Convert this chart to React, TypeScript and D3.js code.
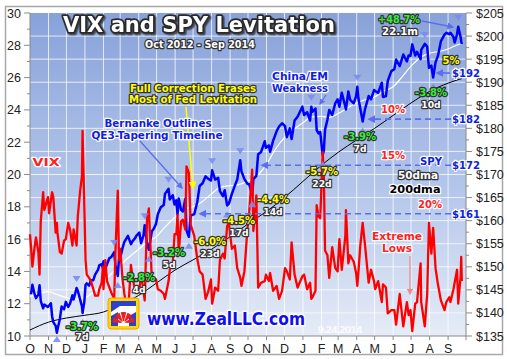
import React, { useRef, useEffect } from "react";
import * as d3 from "d3";

const W = 507;
const H = 359;

// sample dates shared by SPY and VIX
const dates = [
	"2012-10-01", "2012-10-03", "2012-10-05", "2012-10-09", "2012-10-11", "2012-10-15", "2012-10-17", "2012-10-19", "2012-10-23", "2012-10-25", "2012-10-31",
	"2012-11-02", "2012-11-05", "2012-11-07", "2012-11-09", "2012-11-13", "2012-11-15", "2012-11-16", "2012-11-20", "2012-11-23", "2012-11-27", "2012-11-30",
	"2012-12-04", "2012-12-07", "2012-12-11", "2012-12-13", "2012-12-18", "2012-12-20", "2012-12-24", "2012-12-27", "2012-12-28", "2012-12-31",
	"2013-01-02", "2013-01-04", "2013-01-08", "2013-01-11", "2013-01-15", "2013-01-18", "2013-01-23", "2013-01-25", "2013-01-29", "2013-01-31",
	"2013-02-01", "2013-02-04", "2013-02-07", "2013-02-11", "2013-02-14", "2013-02-19", "2013-02-21", "2013-02-25", "2013-02-27",
	"2013-03-01", "2013-03-05", "2013-03-08", "2013-03-14", "2013-03-19", "2013-03-22", "2013-03-26", "2013-03-28",
	"2013-04-02", "2013-04-05", "2013-04-09", "2013-04-11", "2013-04-15", "2013-04-18", "2013-04-23", "2013-04-26", "2013-04-30",
	"2013-05-03", "2013-05-08", "2013-05-13", "2013-05-15", "2013-05-21", "2013-05-23", "2013-05-28", "2013-05-31",
	"2013-06-03", "2013-06-05", "2013-06-07", "2013-06-11", "2013-06-14", "2013-06-18", "2013-06-20", "2013-06-24", "2013-06-27",
	"2013-07-03", "2013-07-08", "2013-07-12", "2013-07-17", "2013-07-22", "2013-07-26", "2013-07-31",
	"2013-08-02", "2013-08-07", "2013-08-12", "2013-08-15", "2013-08-20", "2013-08-23", "2013-08-27", "2013-08-30",
	"2013-09-04", "2013-09-09", "2013-09-13", "2013-09-18", "2013-09-20", "2013-09-25", "2013-09-30",
	"2013-10-03", "2013-10-08", "2013-10-10", "2013-10-15", "2013-10-18", "2013-10-23", "2013-10-29", "2013-10-31",
	"2013-11-05", "2013-11-07", "2013-11-12", "2013-11-18", "2013-11-22", "2013-11-27",
	"2013-12-02", "2013-12-05", "2013-12-10", "2013-12-13", "2013-12-18", "2013-12-23", "2013-12-31",
	"2014-01-03", "2014-01-08", "2014-01-13", "2014-01-15", "2014-01-17", "2014-01-22", "2014-01-24", "2014-01-27", "2014-01-30",
	"2014-02-03", "2014-02-05", "2014-02-07", "2014-02-11", "2014-02-14", "2014-02-19", "2014-02-24", "2014-02-28",
	"2014-03-03", "2014-03-07", "2014-03-13", "2014-03-14", "2014-03-18", "2014-03-21", "2014-03-27", "2014-03-31",
	"2014-04-02", "2014-04-04", "2014-04-07", "2014-04-11", "2014-04-15", "2014-04-21", "2014-04-25", "2014-04-30",
	"2014-05-02", "2014-05-07", "2014-05-13", "2014-05-15", "2014-05-20", "2014-05-23", "2014-05-29",
	"2014-06-03", "2014-06-06", "2014-06-12", "2014-06-18", "2014-06-24", "2014-06-27", "2014-06-30",
	"2014-07-03", "2014-07-08", "2014-07-11", "2014-07-17", "2014-07-18", "2014-07-24", "2014-07-28", "2014-07-31",
	"2014-08-04", "2014-08-07", "2014-08-11", "2014-08-15", "2014-08-20", "2014-08-26", "2014-08-29",
	"2014-09-03", "2014-09-05", "2014-09-10", "2014-09-12", "2014-09-16", "2014-09-18", "2014-09-22", "2014-09-23", "2014-09-24",
];

const spy = [
	144.4, 144.3, 146.1, 143.9, 143.2, 144.0, 146.0, 142.6, 141.0, 141.8, 141.3,
	141.6, 142.1, 139.3, 138.0, 137.2, 135.7, 136.4, 138.7, 141.4, 140.8, 142.4,
	141.3, 142.0, 143.8, 142.9, 145.4, 144.8, 142.9, 141.4, 140.0, 142.4,
	146.1, 146.4, 145.9, 147.1, 147.1, 148.3, 149.4, 150.3, 150.6, 149.7,
	151.2, 149.5, 150.6, 151.9, 152.1, 153.2, 150.4, 148.0, 151.7,
	151.9, 154.1, 155.4, 156.7, 154.9, 155.6, 156.2, 156.7,
	157.4, 155.1, 156.8, 159.0, 155.0, 153.7, 157.7, 158.2, 159.3,
	161.4, 162.9, 163.4, 165.8, 166.9, 164.6, 165.5, 163.5,
	164.4, 161.3, 164.8, 162.3, 162.0, 164.7, 157.9, 156.5, 161.1,
	161.4, 164.0, 167.5, 168.1, 169.6, 169.1, 168.7,
	170.9, 168.9, 169.3, 166.4, 165.3, 166.6, 163.3, 163.7,
	165.8, 167.6, 168.9, 173.1, 170.7, 169.0, 168.0,
	167.9, 165.5, 169.0, 169.7, 174.4, 174.9, 177.2, 175.8,
	176.3, 174.9, 177.3, 179.4, 180.4, 181.1,
	180.5, 178.1, 180.0, 177.7, 181.7, 182.5, 184.7,
	182.9, 183.5, 181.7, 184.7, 183.6, 184.3, 179.6, 178.9, 179.2,
	174.2, 175.2, 179.7, 181.9, 184.0, 182.9, 185.4, 186.3,
	184.7, 187.7, 184.7, 184.1, 188.0, 186.2, 185.4, 187.0,
	189.0, 186.4, 184.3, 181.5, 184.2, 187.0, 186.3, 188.3,
	188.1, 187.7, 189.9, 186.8, 187.0, 190.3, 192.4,
	192.8, 194.9, 193.5, 196.0, 194.5, 195.8, 195.7,
	198.2, 195.8, 196.6, 195.0, 197.0, 198.3, 197.7, 193.1,
	193.6, 191.0, 194.3, 195.7, 198.9, 200.3, 200.7,
	200.4, 200.7, 199.8, 198.6, 200.4, 202.0, 199.8, 198.9, 198.3,
];

const vix = [
	16.3, 15.4, 14.3, 15.6, 16.1, 15.2, 13.8, 17.1, 18.9, 17.8, 18.6,
	17.6, 18.4, 18.9, 18.6, 16.4, 17.0, 16.4, 15.2, 15.1, 15.9, 16.0,
	17.0, 16.6, 15.6, 16.6, 15.6, 17.4, 19.0, 19.9, 22.7, 18.0,
	14.7, 13.8, 13.6, 13.4, 12.9, 12.5, 12.5, 12.9, 13.3, 14.3,
	12.9, 14.7, 13.4, 13.0, 12.7, 12.3, 15.2, 19.0, 14.7,
	15.4, 13.5, 12.6, 11.3, 14.4, 13.6, 12.8, 12.7,
	12.8, 13.9, 12.8, 12.2, 17.3, 17.9, 13.5, 13.6, 13.5,
	12.9, 12.8, 12.6, 12.3, 13.4, 14.1, 14.5, 16.3,
	16.3, 17.5, 15.1, 17.1, 17.2, 16.6, 20.5, 20.1, 16.9,
	16.2, 14.8, 14.0, 13.8, 12.3, 12.7, 13.5,
	12.0, 13.0, 12.8, 14.7, 15.1, 14.8, 16.8, 17.0,
	15.4, 15.6, 14.2, 13.6, 13.1, 14.0, 16.6,
	17.7, 20.3, 16.5, 18.7, 13.0, 13.3, 13.4, 13.8,
	13.4, 13.9, 12.8, 13.1, 12.3, 12.8,
	14.2, 14.0, 13.5, 15.8, 13.8, 13.0, 13.7,
	13.8, 12.9, 13.3, 12.3, 12.4, 12.8, 18.1, 17.4, 17.3,
	21.4, 19.9, 15.3, 15.0, 13.6, 15.5, 14.2, 14.0,
	16.0, 14.1, 16.2, 17.8, 14.5, 15.0, 14.6, 13.9,
	13.1, 14.0, 15.6, 17.0, 15.6, 13.3, 14.1, 13.4,
	12.9, 13.4, 12.1, 13.2, 13.0, 11.4, 11.6,
	11.6, 10.7, 12.6, 10.6, 12.1, 11.3, 11.6,
	10.3, 12.0, 12.1, 14.5, 12.1, 10.6, 12.6, 17.0,
	15.1, 16.7, 14.2, 13.2, 12.2, 11.6, 12.1,
	12.4, 12.1, 12.9, 13.3, 14.1, 12.0, 13.7, 14.9, 13.4,
];

const ma50Dates = [
	"2012-10-01", "2012-10-15", "2012-11-01", "2012-11-15", "2012-12-01", "2012-12-15", "2013-01-01", "2013-01-15",
	"2013-02-01", "2013-02-15", "2013-03-01", "2013-03-15", "2013-04-01", "2013-04-15", "2013-05-01", "2013-05-15",
	"2013-06-01", "2013-06-15", "2013-07-01", "2013-07-15", "2013-08-01", "2013-08-15", "2013-09-01", "2013-09-15",
	"2013-10-01", "2013-10-15", "2013-11-01", "2013-11-15", "2013-12-01", "2013-12-15", "2014-01-01", "2014-01-15",
	"2014-02-01", "2014-02-15", "2014-03-01", "2014-03-15", "2014-04-01", "2014-04-15", "2014-05-01", "2014-05-15",
	"2014-06-01", "2014-06-15", "2014-07-01", "2014-07-15", "2014-08-01", "2014-08-15", "2014-09-01", "2014-09-15", "2014-09-24",
];
const ma50 = [
	143.6, 144.2, 144.6, 144.0, 143.3, 143.0, 143.3, 144.5,
	146.6, 148.6, 150.3, 152.0, 153.8, 155.3, 156.6, 158.6,
	160.8, 162.4, 163.0, 164.0, 165.8, 167.2, 167.6, 167.8,
	168.6, 169.6, 172.2, 175.3, 178.0, 179.6, 181.2, 182.5,
	182.6, 182.4, 183.2, 184.3, 185.5, 186.2, 186.8, 188.0,
	189.0, 191.0, 193.5, 195.2, 196.3, 196.6, 197.2, 198.0, 198.4,
];

const ma200Dates = [
	"2012-10-01", "2012-11-01", "2012-12-01", "2013-01-01", "2013-02-01", "2013-03-01", "2013-04-01", "2013-05-01",
	"2013-06-01", "2013-07-01", "2013-08-01", "2013-09-01", "2013-10-01", "2013-11-01", "2013-12-01", "2014-01-01",
	"2014-02-01", "2014-03-01", "2014-04-01", "2014-05-01", "2014-06-01", "2014-07-01", "2014-08-01", "2014-09-01", "2014-09-24",
];
const ma200 = [
	136.3, 138.0, 138.9, 139.5, 140.2, 141.8, 143.8, 146.5,
	149.3, 151.5, 153.8, 156.5, 159.3, 162.0, 165.0, 168.5,
	172.0, 174.8, 177.5, 180.0, 182.8, 185.5, 188.0, 189.8, 190.8,
];

const vixTicks = [10, 12, 14, 16, 18, 20, 22, 24, 26, 28, 30];
const spyTicks = [135, 140, 145, 150, 155, 160, 165, 170, 175, 180, 185, 190, 195, 200, 205];
const monthLabels = ["O", "N", "D", "J", "F", "M", "A", "M", "J", "J", "A", "S", "O", "N", "D", "J", "F", "M", "A", "M", "J", "J", "A", "S"];

const peakDates = ["2012-12-18", "2013-02-19", "2013-04-11", "2013-05-21", "2013-08-02", "2013-09-18", "2014-01-15", "2014-04-02", "2014-07-24", "2014-09-18"];
const lowDates = ["2012-11-15", "2012-12-28", "2013-02-25", "2013-04-18", "2013-06-24", "2013-08-27", "2013-10-08", "2014-02-03", "2014-04-11", "2014-08-07"];

// pullback labels: percent, duration, colour
const pullbacks = [
	{ pct: "-3.7%", days: "7d", green: true, x: 82, y: 330, dy: 10 },
	{ pct: "-2.8%", days: "4d", green: true, x: 139, y: 281, dy: 12 },
	{ pct: "-3.2%", days: "5d", green: true, x: 169, y: 256, dy: 12 },
	{ pct: "-6.0%", days: "23d", green: false, x: 210, y: 245, dy: 12 },
	{ pct: "-4.5%", days: "17d", green: false, x: 239, y: 224, dy: 12 },
	{ pct: "-4.4%", days: "14d", green: false, x: 273, y: 203, dy: 12 },
	{ pct: "-5.7%", days: "22d", green: false, x: 322, y: 175, dy: 12 },
	{ pct: "-3.9%", days: "7d", green: true, x: 360, y: 140, dy: 12 },
	{ pct: "-3.8%", days: "10d", green: true, x: 431, y: 96, dy: 12 },
];

const supportLevels = [
	{ level: 182, label: "$182", pct: "10%", pctX: 393, fromX: 369 },
	{ level: 172, label: "$172", pct: "15%", pctX: 393, fromX: 262 },
	{ level: 161.5, label: "$161", pct: "20%", pctX: 430, fromX: 200 },
];

const parse = d3.timeParse("%Y-%m-%d");

const App = () => {
	const svgRef = useRef<SVGSVGElement | null>(null);

	useEffect(() => {
		document.body.style.margin = "0";
		if (!svgRef.current) return;
		const svg = d3.select(svgRef.current);
		svg.selectAll("*").remove();

		const left = 30, right = 466, top = 13, bottom = 336;

		const x = d3.scaleTime().domain([new Date(2012, 9, 1), new Date(2014, 9, 1)]).range([left, right]);
		const yV = d3.scaleLinear().domain([10, 30]).range([bottom, top]);
		const yS = d3.scaleLinear().domain([135, 205]).range([bottom, top]);

		const defs = svg.append("defs");
		const grad = defs.append("linearGradient").attr("id", "bg").attr("x1", "0%").attr("y1", "0%").attr("x2", "0%").attr("y2", "100%");
		grad.append("stop").attr("offset", "0%").attr("stop-color", "#88a2d9");
		grad.append("stop").attr("offset", "55%").attr("stop-color", "#b4c6ea");
		grad.append("stop").attr("offset", "100%").attr("stop-color", "#e6ecf7");

		defs.append("filter").attr("id", "shadow").attr("x", "-5%").attr("y", "-20%").attr("width", "110%").attr("height", "150%")
			.append("feDropShadow").attr("dx", 1.5).attr("dy", 1.5).attr("stdDeviation", 0.6)
			.attr("flood-color", "#333").attr("flood-opacity", 0.8);

		const arrowDef = (id: string, color: string) => {
			defs.append("marker").attr("id", id).attr("viewBox", "0 0 10 10").attr("refX", 8).attr("refY", 5)
				.attr("markerWidth", 5).attr("markerHeight", 5).attr("orient", "auto-start-reverse")
				.append("path").attr("d", "M0,0L10,5L0,10z").attr("fill", color);
		};
		arrowDef("arYellow", "#ffff00");
		arrowDef("arBlue", "#5b6ef0");
		arrowDef("arPink", "#f08a8a");

		svg.append("rect").attr("width", W).attr("height", H).attr("fill", "#ffffff");
		svg.append("rect").attr("x", 5.5).attr("y", 6.5).attr("width", 497).attr("height", 348)
			.attr("fill", "none").attr("stroke", "#a8a8a8").attr("stroke-width", 1.5);
		svg.append("rect").attr("x", left).attr("y", top).attr("width", right - left).attr("height", bottom - top).attr("fill", "url(#bg)");

		// grid
		const months = d3.timeMonth.range(new Date(2012, 9, 1), new Date(2014, 9, 1));
		svg.append("g").selectAll("line").data(months.slice(1)).join("line")
			.attr("x1", (d) => x(d)).attr("x2", (d) => x(d)).attr("y1", top).attr("y2", bottom)
			.attr("stroke", "#ffffff").attr("stroke-opacity", 0.75).attr("stroke-width", 1);
		svg.append("g").selectAll("line").data(spyTicks.slice(1, -1)).join("line")
			.attr("x1", left).attr("x2", right).attr("y1", (d) => yS(d)).attr("y2", (d) => yS(d))
			.attr("stroke", "#ffffff").attr("stroke-opacity", 0.75).attr("stroke-width", 1);

		// axes
		const axisG = svg.append("g").attr("stroke", "#8a8a8a").attr("stroke-width", 1);
		axisG.append("line").attr("x1", left).attr("x2", left).attr("y1", top).attr("y2", bottom + 4);
		axisG.append("line").attr("x1", right).attr("x2", right).attr("y1", top).attr("y2", bottom + 4);
		axisG.append("line").attr("x1", left).attr("x2", right).attr("y1", bottom).attr("y2", bottom);
		axisG.selectAll(".vt").data(d3.range(10, 30.5, 1)).join("line")
			.attr("x1", (d) => (d % 2 === 0 ? left - 6 : left - 3)).attr("x2", left)
			.attr("y1", (d) => yV(d)).attr("y2", (d) => yV(d));
		axisG.selectAll(".st").data(d3.range(135, 205.5, 2.5)).join("line")
			.attr("x1", right).attr("x2", (d) => (d % 5 === 0 ? right + 6 : right + 3))
			.attr("y1", (d) => yS(d)).attr("y2", (d) => yS(d));
		axisG.selectAll(".mt").data(months.slice(1)).join("line")
			.attr("x1", (d) => x(d)).attr("x2", (d) => x(d)).attr("y1", bottom).attr("y2", bottom + 4);

		const tickFont = "'Liberation Sans', Arial, sans-serif";
		svg.append("g").selectAll("text").data(vixTicks).join("text")
			.attr("x", left - 9).attr("y", (d) => yV(d) + 4.5).attr("text-anchor", "end")
			.attr("font-family", tickFont).attr("font-size", 12.5).attr("fill", "#222").text((d) => d);
		svg.append("g").selectAll("text").data(spyTicks).join("text")
			.attr("x", right + 10).attr("y", (d) => yS(d) + 4.5).attr("text-anchor", "start")
			.attr("font-family", tickFont).attr("font-size", 12.5).attr("fill", "#222").text((d) => `$${d}`);
		svg.append("g").selectAll("text").data(months).join("text")
			.attr("x", (d) => x(d)).attr("y", bottom + 17).attr("text-anchor", "middle")
			.attr("font-family", tickFont).attr("font-size", 12.5).attr("fill", "#222")
			.text((_d, i) => monthLabels[i]);

		// moving averages and series
		const sLine = d3.line<[string, number]>().x((d) => x(parse(d[0])!)).y((d) => yS(d[1]));
		const vLine = d3.line<[string, number]>().x((d) => x(parse(d[0])!)).y((d) => yV(d[1]));
		const smooth = d3.line<[string, number]>().x((d) => x(parse(d[0])!)).y((d) => yS(d[1])).curve(d3.curveMonotoneX);

		svg.append("path").attr("d", smooth(d3.zip(ma200Dates, ma200) as any)!)
			.attr("fill", "none").attr("stroke", "#000").attr("stroke-width", 1);
		svg.append("path").attr("d", smooth(d3.zip(ma50Dates, ma50) as any)!)
			.attr("fill", "none").attr("stroke", "#ffffff").attr("stroke-width", 1.2);
		svg.append("path").attr("d", sLine(d3.zip(dates, spy) as any)!)
			.attr("fill", "none").attr("stroke", "#0000ff").attr("stroke-width", 2.5).attr("stroke-linejoin", "round");
		svg.append("path").attr("d", vLine(d3.zip(dates, vix) as any)!)
			.attr("fill", "none").attr("stroke", "#ff0000").attr("stroke-width", 2.3).attr("stroke-linejoin", "round");

		// peak / low markers
		const spyAt = (d: string) => spy[dates.indexOf(d)];
		const markG = svg.append("g").attr("fill", "#7b8cf2").attr("fill-opacity", 0.9);
		markG.selectAll(".pk").data(peakDates).join("path")
			.attr("transform", (d) => `translate(${x(parse(d)!)},${yS(spyAt(d)) - 9})`)
			.attr("d", "M-4,-3L4,-3L0,3z");
		markG.selectAll(".lw").data(lowDates).join("path")
			.attr("transform", (d) => `translate(${x(parse(d)!)},${Math.min(yS(spyAt(d)) + 9, bottom + 3)})`)
			.attr("d", "M-4,3L4,3L0,-3z");

		// outlined text helper
		const txt = (s: string, tx: number, ty: number, size: number, fill: string, stroke: string, len?: number, sw = 2.5) => {
			const t = svg.append("text").attr("x", tx).attr("y", ty).attr("text-anchor", "middle")
				.attr("font-family", "'DejaVu Sans', Verdana, sans-serif").attr("font-weight", "bold")
				.attr("font-size", size).attr("fill", fill).attr("stroke", stroke).attr("stroke-width", sw)
				.attr("stroke-linejoin", "round").attr("paint-order", "stroke").text(s);
			if (len) t.attr("textLength", len).attr("lengthAdjust", "spacingAndGlyphs");
			return t;
		};

		// support levels
		const dashG = svg.append("g");
		supportLevels.forEach((s) => {
			dashG.append("line").attr("x1", 451).attr("x2", s.fromX).attr("y1", yS(s.level)).attr("y2", yS(s.level))
				.attr("stroke", "#5b6ef0").attr("stroke-width", 1.6).attr("stroke-dasharray", "6,4")
				.attr("marker-end", "url(#arBlue)");
			txt(s.label, 466, yS(s.level) + 4, 10.5, "#1020e0", "#ffffff", 28);
			txt(s.pct, s.pctX, yS(s.level) - 6, 10.5, "#ff2020", "#ffffff", 24);
		});
		svg.append("line").attr("x1", 450).attr("x2", 437).attr("y1", yS(192)).attr("y2", yS(192))
			.attr("stroke", "#5b6ef0").attr("stroke-width", 1.6).attr("marker-end", "url(#arBlue)");
		txt("$192", 466, yS(192) + 4, 10.5, "#1020e0", "#ffffff", 28);
		txt("5%", 451, 64, 10.5, "#ffff00", "#333", 17);

		// legend
		txt("SPY", 431, 165, 11, "#1020e0", "#ffffff", 22);
		txt("50dma", 418, 179, 10.5, "#ffffff", "#333", 40);
		txt("200dma", 415, 193, 10.5, "#000000", "#ffffff", 51);

		// pullback labels
		pullbacks.forEach((p) => {
			txt(p.pct, p.x, p.y, 10, p.green ? "#33ee33" : "#ffff00", "#333", 32);
			txt(p.days, p.x, p.y + p.dy, 9.5, "#ffffff", "#333", p.days.length * 6.5);
		});

		// annotations
		txt("+48.7%", 399, 23, 10.5, "#33ee33", "#333", 42);
		txt("22.1m", 400, 35, 10.5, "#ffffff", "#333", 36);
		svg.append("line").attr("x1", 422).attr("x2", 453).attr("y1", 21).attr("y2", 27)
			.attr("stroke", "#5b6ef0").attr("stroke-width", 1.4).attr("marker-end", "url(#arBlue)");

		txt("China/EM", 300, 80, 10.5, "#1020e0", "#ffffff", 56);
		txt("Weakness", 300, 92, 10.5, "#1020e0", "#ffffff", 56);
		svg.append("line").attr("x1", 326).attr("x2", 320).attr("y1", 95).attr("y2", 104)
			.attr("stroke", "#5b6ef0").attr("stroke-width", 1.2).attr("marker-end", "url(#arBlue)");

		txt("Full Correction Erases", 193, 92, 10.5, "#ffff00", "#333", 126);
		txt("Most of Fed Levitation", 193, 103, 10.5, "#ffff00", "#333", 128);
		svg.append("line").attr("x1", 186).attr("x2", 193).attr("y1", 107).attr("y2", 188)
			.attr("stroke", "#ffff00").attr("stroke-width", 1.6).attr("marker-end", "url(#arYellow)");

		txt("Bernanke Outlines", 158, 127, 10.5, "#1020e0", "#ffffff", 107);
		txt("QE3-Tapering Timeline", 157, 139, 10.5, "#1020e0", "#ffffff", 131);
		svg.append("line").attr("x1", 140).attr("x2", 182).attr("y1", 141).attr("y2", 188)
			.attr("stroke", "#5b6ef0").attr("stroke-width", 1.3).attr("marker-end", "url(#arBlue)");

		txt("VIX", 46, 166, 11, "#ff2020", "#ffffff", 27);
		txt("Extreme", 397, 240, 10.5, "#ff2020", "#ffffff", 50);
		txt("Lows", 397, 252, 10.5, "#ff2020", "#ffffff", 30);
		svg.append("line").attr("x1", 410).attr("x2", 410).attr("y1", 256).attr("y2", 294)
			.attr("stroke", "#f08a8a").attr("stroke-width", 1.3).attr("marker-end", "url(#arPink)");

		// title
		txt("VIX and SPY Levitation", 199, 32, 21, "#ffffff", "#2a2a2a", 272, 3.5).attr("filter", "url(#shadow)");
		txt("Oct 2012 - Sep 2014", 200, 48, 10, "#ffffff", "#333", 110, 2.5);

		// logo
		const logo = svg.append("g").attr("transform", "translate(108,298)");
		logo.append("rect").attr("width", 31).attr("height", 31).attr("rx", 3).attr("fill", "#ffd800").attr("stroke", "#f0a000");
		logo.append("rect").attr("x", 3).attr("y", 3).attr("width", 25).attr("height", 25).attr("fill", "#ffffff");
		logo.append("path").attr("d", "M3,3H28V8H12L3,14z M3,18L10,14V28H3z M28,14V28H21V18z").attr("fill", "#2b3fd0");
		const fan = d3.arc<any>().innerRadius(2).outerRadius(11);
		d3.range(5).forEach((i) => {
			const a0 = -Math.PI / 2 + (i * Math.PI) / 5 + 0.06;
			const a1 = -Math.PI / 2 + ((i + 1) * Math.PI) / 5 - 0.06;
			logo.append("path").attr("transform", "translate(15.5,25)")
				.attr("d", fan({ startAngle: a0, endAngle: a1 })!).attr("fill", "#e82020");
		});

		txt("www.ZealLLC.com", 226, 325, 17, "#1010ee", "#ffffff", 158, 3);
		svg.append("text").attr("x", 340).attr("y", 333).attr("text-anchor", "middle")
			.attr("font-family", "'DejaVu Sans', sans-serif").attr("font-weight", "bold").attr("font-size", 9.5)
			.attr("fill", "#ffffff").attr("fill-opacity", 0.8).attr("textLength", 45).text("9.24.2014");
	}, []);

	return <svg ref={svgRef} width={W} height={H} style={{ display: "block" }}></svg>;
};

export default App;
